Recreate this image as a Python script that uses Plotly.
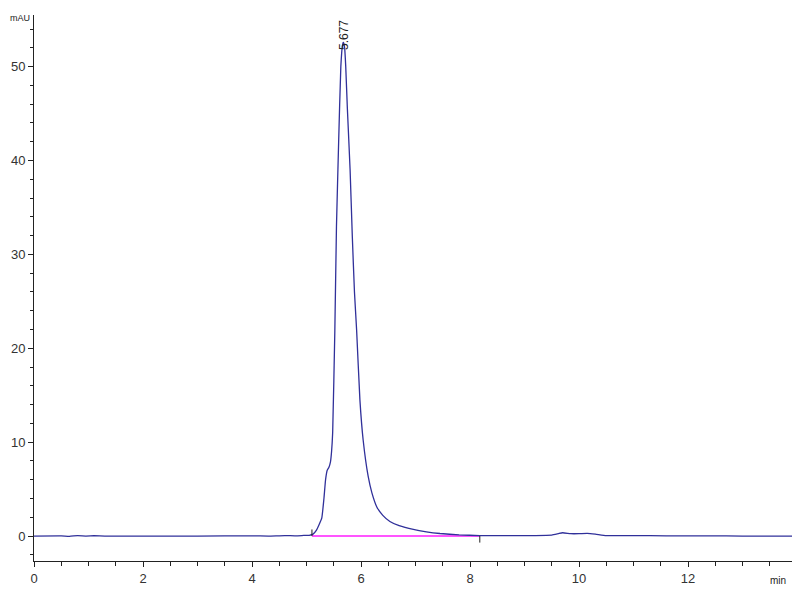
import plotly.graph_objects as go

# chromatogram trace (min, mAU)
time_min = [0.0, 0.5, 0.65, 0.8, 0.95, 1.1, 1.3, 2.0, 3.0, 4.0, 4.3, 4.6, 4.8, 4.95,
            5.05, 5.12, 5.18, 5.23, 5.28, 5.32, 5.35, 5.38, 5.41, 5.44, 5.46, 5.48,
            5.52, 5.55, 5.59, 5.63, 5.66, 5.677, 5.70, 5.72, 5.75, 5.80, 5.84, 5.88,
            5.92, 5.98, 6.04, 6.13, 6.20, 6.29, 6.40, 6.53, 6.70, 6.96, 7.20, 7.45,
            7.80, 8.18, 8.60, 9.20, 9.50, 9.62, 9.70, 9.85, 10.00, 10.15, 10.30,
            10.50, 11.00, 11.60, 12.40, 13.00, 14.00]
signal_mau = [0.0, 0.02, -0.03, 0.04, 0.0, 0.03, 0.0, 0.0, 0.0, 0.02, 0.0, 0.05, 0.02, 0.06,
              0.08, 0.2, 0.6, 1.2, 1.9, 4.0, 6.0, 7.0, 7.3, 7.9, 9.0, 11.0,
              21.9, 33.0, 42.0, 50.0, 52.3, 52.6, 52.0, 50.0, 45.5, 39.0, 32.0, 26.0,
              21.9, 14.5, 10.2, 6.4, 4.6, 3.1, 2.2, 1.55, 1.1, 0.7, 0.45, 0.27,
              0.12, 0.05, 0.05, 0.05, 0.1, 0.25, 0.35, 0.25, 0.25, 0.28, 0.2,
              0.05, 0.05, 0.02, 0.02, 0.0, 0.0]

# integration baseline and its start/end markers
baseline_t = [5.10, 8.18]
baseline_y = [0.0, 0.0]
start_mark_y = [0.0, 0.7]
end_mark_y = [0.0, -0.7]

peak_time = 5.677
peak_label = "5.677"

line_color = "#30309a"
baseline_color = "#ff55ff"
font = "Liberation Sans, Arial, sans-serif"

fig = go.Figure()

fig.add_trace(go.Scatter(x=baseline_t, y=baseline_y, mode="lines",
                         line=dict(color=baseline_color, width=2), hoverinfo="skip"))
fig.add_trace(go.Scatter(x=time_min, y=signal_mau, mode="lines",
                         line=dict(color=line_color, width=1.3, shape="spline", smoothing=0.4)))
fig.add_trace(go.Scatter(x=[baseline_t[0]] * 2, y=start_mark_y, mode="lines",
                         line=dict(color="#222", width=1), hoverinfo="skip"))
fig.add_trace(go.Scatter(x=[baseline_t[1]] * 2, y=end_mark_y, mode="lines",
                         line=dict(color="#222", width=1), hoverinfo="skip"))

fig.add_annotation(x=peak_time, y=51.6, text=peak_label, textangle=-90,
                   showarrow=False, yanchor="bottom", xanchor="center",
                   font=dict(family=font, size=12, color="#222"))
fig.add_annotation(xref="paper", yref="paper", x=-0.033, y=0.995, text="mAU",
                   showarrow=False, xanchor="left", yanchor="middle", borderpad=0,
                   font=dict(family=font, size=9, color="#222"))
fig.add_annotation(xref="paper", yref="paper", x=0.975, y=-0.036, text="min",
                   showarrow=False, xanchor="center", yanchor="middle",
                   font=dict(family=font, size=10, color="#222"))

# the page body adds an 8px offset, so the figure is sized to the visible area
fig.update_layout(
    width=792, height=592,
    margin=dict(l=26, r=3, t=7, b=39, autoexpand=False),
    paper_bgcolor="white", plot_bgcolor="white",
    showlegend=False,
    font=dict(family=font, size=13, color="#333"),
)
fig.update_xaxes(range=[0, 14.0], tickvals=[0, 2, 4, 6, 8, 10, 12],
                 ticks="outside", ticklen=5, tickcolor="#222", automargin=False,
                 minor=dict(dtick=0.5, ticks="outside", ticklen=4, tickcolor="#222"),
                 showline=True, linecolor="#222", linewidth=1,
                 showgrid=False, zeroline=False)
fig.update_yaxes(range=[-2.66, 55.5], tickvals=[0, 10, 20, 30, 40, 50],
                 ticks="outside", ticklen=5, tickcolor="#222", automargin=False,
                 minor=dict(dtick=2, ticks="outside", ticklen=3, tickcolor="#222"),
                 showline=True, linecolor="#222", linewidth=1,
                 showgrid=False, zeroline=False)

fig.write_html("out.html")
